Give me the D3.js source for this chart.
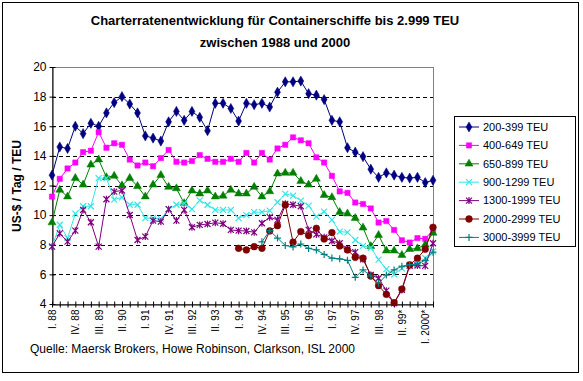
<!DOCTYPE html>
<html><head><meta charset="utf-8">
<script src="https://cdn.jsdelivr.net/npm/d3@7"></script>
<style>body{margin:0;background:#fff} svg{display:block} text{font-family:"Liberation Sans",Arial,sans-serif}</style>
</head><body><svg id="c" width="583" height="381"></svg>
<script>
const categories = ["I. 88","II. 88","III. 88","IV. 88","I. 89","II. 89","III. 89","IV. 89","I. 90","II. 90","III. 90","IV. 90","I. 91","II. 91","III. 91","IV. 91","I. 92","II. 92","III. 92","IV. 92","I. 93","II. 93","III. 93","IV. 93","I. 94","II. 94","III. 94","IV. 94","I. 95","II. 95","III. 95","IV. 95","I. 96","II. 96","III. 96","IV. 96","I. 97","II. 97","III. 97","IV. 97","I. 98","II. 98","III. 98","IV. 98","I. 99","II. 99*","III. 99","IV. 99","I. 2000*","II. 2000"];
const yTicks = [4,6,8,10,12,14,16,18,20];
const seriesNames = ["200-399 TEU","400-649 TEU","650-899 TEU","900-1299 TEU","1300-1999 TEU","2000-2999 TEU","3000-3999 TEU"];
const s200 = [12.7,14.6,14.5,16.0,15.5,16.2,16.0,16.9,17.6,18.0,17.5,16.9,15.35,15.2,15.0,16.3,17.0,16.4,17.0,16.6,15.7,17.55,17.55,17.2,16.35,17.55,17.45,17.55,17.3,18.3,19.0,19.0,19.05,18.2,18.1,17.8,16.4,16.3,14.55,14.25,13.95,13.1,12.55,12.85,12.7,12.55,12.5,12.55,12.2,12.35];
const s400 = [11.25,12.45,13.15,13.55,14.25,14.35,15.6,14.55,14.85,14.75,13.75,13.35,13.55,13.3,13.85,14.4,13.6,13.55,13.65,14.05,13.8,13.6,13.6,13.8,13.6,14.2,13.55,14.2,13.75,14.5,14.75,15.25,15.05,14.85,13.9,13.55,12.65,11.6,11.5,10.85,10.75,10.45,9.5,9.6,9.0,8.3,8.15,8.45,8.4,9.0];
const s650 = [9.5,11.7,11.25,12.5,12.05,13.4,13.75,12.55,12.65,12.0,12.5,11.95,11.25,12.05,12.7,11.9,11.8,10.8,11.65,11.45,11.65,11.25,11.3,11.7,11.45,11.45,11.9,11.25,11.6,12.8,12.85,12.85,12.3,12.05,12.45,11.35,11.2,10.2,10.1,9.8,9.15,7.9,8.65,7.6,7.6,7.3,7.7,7.75,8.0,8.8];
const s900 = [7.87,9.35,8.45,10.1,10.6,10.6,12.5,12.5,11.05,11.2,10.7,10.7,9.8,9.8,9.75,10.4,10.7,10.8,10.4,11.0,10.7,10.35,10.35,10.35,9.8,10.0,10.2,10.2,10.3,10.87,11.43,11.32,10.98,10.64,9.9,10.24,9.68,8.89,8.84,8.32,7.92,7.8,7.0,6.35,6.0,6.4,6.65,6.7,7.1,7.55];
const s1300 = [7.87,8.77,8.21,8.95,10.35,9.52,7.87,11.07,11.59,11.66,10.01,8.32,8.55,9.63,9.56,10.4,9.63,10.35,9.18,9.34,9.4,9.49,9.42,9.0,8.95,8.93,8.84,9.45,9.86,9.68,10.76,10.7,10.6,9.0,8.7,8.5,8.25,8.1,7.7,7.5,7.02,5.96,5.74,4.9,4.05,4.95,6.57,6.6,6.57,8.1];
const s2000 = [null,null,null,null,null,null,null,null,null,null,null,null,null,null,null,null,null,null,null,null,null,null,null,null,7.76,7.65,7.87,7.76,8.93,9.29,10.69,8.17,8.89,8.62,9.11,8.39,8.82,7.92,7.65,7.15,7.09,5.89,5.24,4.65,4.09,5.01,6.64,7.09,7.7,9.18];
const s3000 = [null,null,null,null,null,null,null,null,null,null,null,null,null,null,null,null,null,null,null,null,null,null,null,null,null,null,null,8.2,8.95,8.45,7.95,7.85,8.05,7.75,7.65,7.35,7.1,7.05,6.95,5.8,6.3,5.9,5.4,5.95,6.3,6.55,6.65,6.7,6.95,7.5];
const title1 = "Charterratenentwicklung für Containerschiffe bis 2.999 TEU";
const title2 = "zwischen 1988 und 2000";
const yLabel = "US-$ / Tag / TEU";
const source = "Quelle: Maersk Brokers, Howe Robinson, Clarkson, ISL 2000";

const series = [
  {name: seriesNames[0], values: s200, color: "#000080", marker: "diamond"},
  {name: seriesNames[1], values: s400, color: "#FF00FF", marker: "square"},
  {name: seriesNames[2], values: s650, color: "#008000", marker: "triangle"},
  {name: seriesNames[3], values: s900, color: "#33E6E6", marker: "x"},
  {name: seriesNames[4], values: s1300, color: "#800080", marker: "star"},
  {name: seriesNames[5], values: s2000, color: "#800000", marker: "circle"},
  {name: seriesNames[6], values: s3000, color: "#008080", marker: "plus"}
];

const svg = d3.select("#c");
const L = 52, R = 433, T = 67, B = 304;
const x = d3.scalePoint().domain(categories).range([L, R]);
const y = d3.scaleLinear().domain([4, 20]).range([B, T]);

svg.append("rect").attr("x",2.5).attr("y",2.5).attr("width",576).attr("height",370)
  .attr("fill","#fff").attr("stroke","#000").attr("stroke-width",1);

svg.append("rect").attr("x",L+0.5).attr("y",T+0.5).attr("width",R-L).attr("height",B-T)
  .attr("fill","none").attr("stroke","#808080").attr("stroke-width",1);

svg.append("g").selectAll("line").data(yTicks.filter(v=>v>4 && v<20)).join("line")
  .attr("x1",L).attr("x2",R).attr("y1",d=>Math.round(y(d))+0.5).attr("y2",d=>Math.round(y(d))+0.5)
  .attr("stroke","#000").attr("stroke-dasharray","4,3").attr("stroke-width",1);

const yAxis = d3.axisLeft(y).tickValues(yTicks).tickSize(3).tickSizeOuter(0).tickPadding(4);
const gy = svg.append("g").attr("transform",`translate(${L+0.5},0)`).call(yAxis);
gy.selectAll(".tick line").attr("x2",-3).attr("x1",3);
gy.select(".domain").attr("stroke","#000");
gy.selectAll("text").attr("font-size","12px").attr("fill","#000").attr("x",-6);

const xAxis = d3.axisBottom(x).tickSize(3).tickSizeOuter(0).tickFormat((d,i)=> i%3===0 ? d : "");
const gx = svg.append("g").attr("transform",`translate(0,${B+0.5})`).call(xAxis);
gx.selectAll(".tick line").attr("y1",-3).attr("y2",3);
gx.select(".domain").attr("stroke","#000");
gx.selectAll("text").attr("font-size","10px").attr("fill","#000")
  .attr("transform","rotate(-90)").attr("text-anchor","end").attr("x",-5).attr("y",0).attr("dy","0.35em");

function markerPath(type){
  switch(type){
    case "diamond": return d3.symbol(d3.symbolDiamond, 30)();
    case "square": return d3.symbol(d3.symbolSquare, 28)();
    case "triangle": return d3.symbol(d3.symbolTriangle, 28)();
    case "circle": return d3.symbol(d3.symbolCircle, 36)();
    case "x": return "M-3,-3L3,3M-3,3L3,-3";
    case "star": return "M-3,-3L3,3M-3,3L3,-3M0,-3.5V3.5";
    case "plus": return "M-3.5,0H3.5M0,-3.5V3.5";
  }
}
function styleMarker(sel, s){
  const stroked = (s.marker==="x"||s.marker==="star"||s.marker==="plus");
  sel.attr("d", markerPath(s.marker))
    .attr("fill", stroked ? "none" : s.color)
    .attr("stroke", s.color).attr("stroke-width", stroked ? 1.2 : 0.5);
}

const line = d3.line().defined(d=>d.v!=null).x(d=>x(d.c)).y(d=>y(d.v));
series.forEach(s=>{
  const pts = s.values.map((v,i)=>({c:categories[i], v}));
  const g = svg.append("g");
  g.append("path").datum(pts).attr("d",line).attr("fill","none").attr("stroke",s.color).attr("stroke-width",1);
  g.selectAll("path.m").data(pts.filter(d=>d.v!=null)).join("path").attr("class","m")
    .attr("transform",d=>`translate(${x(d.c)},${y(d.v)})`)
    .call(sel=>styleMarker(sel,s));
});

svg.append("text").attr("x",275).attr("y",25).attr("text-anchor","middle")
  .attr("font-size","13px").attr("font-weight","bold").text(title1);
svg.append("text").attr("x",275).attr("y",47).attr("text-anchor","middle")
  .attr("font-size","13px").attr("font-weight","bold").text(title2);
svg.append("text").attr("transform","translate(21,186) rotate(-90)").attr("text-anchor","middle")
  .attr("font-size","12px").attr("font-weight","bold").text(yLabel);
svg.append("text").attr("x",30).attr("y",353).attr("font-size","12px").text(source);

const lg = svg.append("g");
lg.append("rect").attr("x",454.5).attr("y",116.5).attr("width",121).attr("height",130)
  .attr("fill","#fff").attr("stroke","#000");
series.forEach((s,i)=>{
  const yy = 127 + i*18.4;
  lg.append("line").attr("x1",459).attr("x2",479).attr("y1",yy).attr("y2",yy).attr("stroke",s.color);
  lg.append("path").attr("transform",`translate(469,${yy})`).call(sel=>styleMarker(sel,s));
  lg.append("text").attr("x",483).attr("y",yy).attr("dy","0.35em").attr("font-size","11px").text(s.name);
});
</script></body></html>
